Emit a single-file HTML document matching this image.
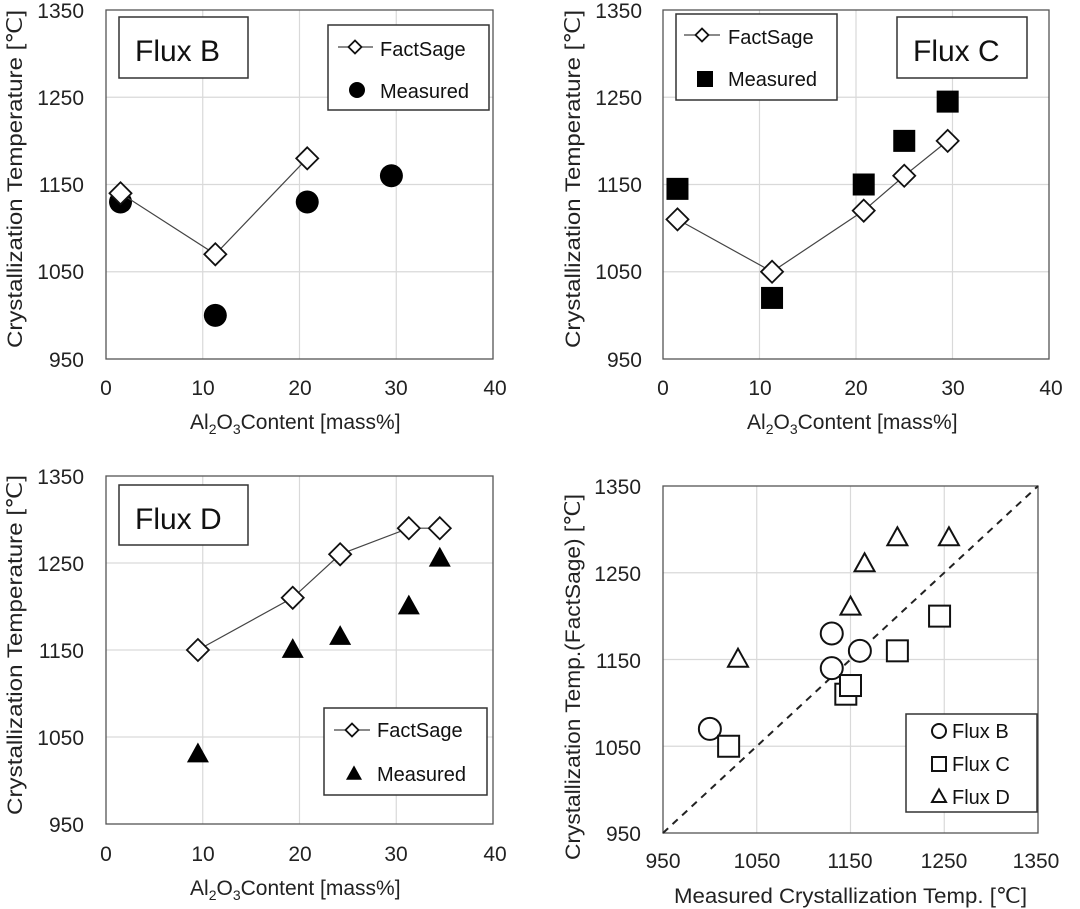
<!DOCTYPE html>
<html><head><meta charset="utf-8"><style>
html,body{margin:0;padding:0;background:#fff;}
svg{display:block;font-family:"Liberation Sans",sans-serif;fill:#222;}
</style></head><body>
<svg id="s" width="1080" height="909" viewBox="0 0 1080 909" xmlns="http://www.w3.org/2000/svg">
<g id="grid"></g>
<g font-size="21" fill="#222">
<g text-anchor="end"><text x="84" y="18">1350</text><text x="84" y="105">1250</text><text x="84" y="192">1150</text><text x="84" y="279">1050</text><text x="84" y="367">950</text></g>
<g text-anchor="middle"><text x="106" y="395">0</text><text x="203" y="395">10</text><text x="300" y="395">20</text><text x="396" y="395">30</text><text x="495" y="395">40</text></g>
<g text-anchor="end"><text x="642" y="18">1350</text><text x="642" y="105">1250</text><text x="642" y="192">1150</text><text x="642" y="279">1050</text><text x="642" y="367">950</text></g>
<g text-anchor="middle"><text x="663" y="395">0</text><text x="760" y="395">10</text><text x="856" y="395">20</text><text x="953" y="395">30</text><text x="1051" y="395">40</text></g>
<g text-anchor="end"><text x="84" y="484">1350</text><text x="84" y="571">1250</text><text x="84" y="658">1150</text><text x="84" y="745">1050</text><text x="84" y="832">950</text></g>
<g text-anchor="middle"><text x="106" y="861">0</text><text x="203" y="861">10</text><text x="300" y="861">20</text><text x="396" y="861">30</text><text x="495" y="861">40</text></g>
<g text-anchor="end"><text x="641" y="494">1350</text><text x="641" y="581">1250</text><text x="641" y="668">1150</text><text x="641" y="755">1050</text><text x="641" y="841">950</text></g>
<g text-anchor="middle"><text x="663" y="868">950</text><text x="757" y="868">1050</text><text x="850" y="868">1150</text><text x="944" y="868">1250</text><text x="1036" y="868">1350</text></g>
</g>
<g font-size="21" fill="#222">
<text x="190" y="429">Al<tspan font-size="14" dy="5">2</tspan><tspan dy="-5">O</tspan><tspan font-size="14" dy="5">3</tspan><tspan dy="-5">Content [mass%]</tspan></text>
<text x="747" y="429">Al<tspan font-size="14" dy="5">2</tspan><tspan dy="-5">O</tspan><tspan font-size="14" dy="5">3</tspan><tspan dy="-5">Content [mass%]</tspan></text>
<text x="190" y="895">Al<tspan font-size="14" dy="5">2</tspan><tspan dy="-5">O</tspan><tspan font-size="14" dy="5">3</tspan><tspan dy="-5">Content [mass%]</tspan></text>
<text x="674" y="903" textLength="353" lengthAdjust="spacingAndGlyphs">Measured Crystallization Temp. [℃]</text>
<text transform="translate(22,348) rotate(-90)" textLength="338" lengthAdjust="spacingAndGlyphs">Crystallization Temperature [℃]</text>
<text transform="translate(580,348) rotate(-90)" textLength="338" lengthAdjust="spacingAndGlyphs">Crystallization Temperature [℃]</text>
<text transform="translate(22,815) rotate(-90)" textLength="340" lengthAdjust="spacingAndGlyphs">Crystallization Temperature [℃]</text>
<text transform="translate(580,860) rotate(-90)" textLength="366" lengthAdjust="spacingAndGlyphs">Crystallization Temp.(FactSage)  [℃]</text>
</g>
<g id="data"></g>
<g fill="#fff" stroke="#333" stroke-width="1.5">
<rect x="119" y="17" width="129" height="61"/><rect x="897" y="17" width="130" height="61"/><rect x="119" y="485" width="129" height="60"/>
<rect x="328" y="25" width="161" height="85"/><rect x="676" y="14" width="161" height="86"/><rect x="324" y="708" width="163" height="87"/><rect x="906" y="714" width="131" height="98"/>
</g>
<g font-size="30" fill="#111"><text x="135" y="61">Flux B</text><text x="913" y="61">Flux C</text><text x="135" y="529">Flux D</text></g>
<g font-size="20" fill="#111">
<text x="380" y="56">FactSage</text><text x="380" y="98">Measured</text>
<text x="728" y="44">FactSage</text><text x="728" y="86">Measured</text>
<text x="377" y="737">FactSage</text><text x="377" y="781">Measured</text>
<text x="952" y="738">Flux B</text><text x="952" y="771">Flux C</text><text x="952" y="804">Flux D</text>
</g>
<g id="leg"></g>
</svg>
<script>
var NS="http://www.w3.org/2000/svg";
function el(p,t,a){var e=document.createElementNS(NS,t);for(var k in a)e.setAttribute(k,a[k]);document.getElementById(p).appendChild(e);return e;}
function panel(L,R,T,B,nx,ny){
 for(var i=1;i<nx;i++){var x=L+(R-L)*i/nx;el("grid","line",{x1:x,x2:x,y1:T,y2:B,stroke:"#d9d9d9","stroke-width":1.2});}
 for(var j=1;j<ny;j++){var y=T+(B-T)*j/ny;el("grid","line",{x1:L,x2:R,y1:y,y2:y,stroke:"#d9d9d9","stroke-width":1.2});}
 el("grid","rect",{x:L,y:T,width:R-L,height:B-T,fill:"none",stroke:"#555","stroke-width":1.3});
}
panel(106,493,10,359,4,4);panel(663,1049,10,359,4,4);panel(106,493,476,824,4,4);panel(663,1038,486,833,4,4);
function mk(L,R,T,B,x0,x1){return function(x,y){return [L+(x-x0)/(x1-x0)*(R-L),B-(y-950)/400*(B-T)];};}
function dia(g,p,r){el(g,"polygon",{points:(p[0])+","+(p[1]-r)+" "+(p[0]+r)+","+p[1]+" "+p[0]+","+(p[1]+r)+" "+(p[0]-r)+","+p[1],fill:"#fff",stroke:"#111","stroke-width":1.8});}
function line(g,pts){el(g,"polyline",{points:pts.map(function(p){return p.join(",")}).join(" "),fill:"none",stroke:"#444","stroke-width":1.2});}
function circ(g,p,r,f){el(g,"circle",{cx:p[0],cy:p[1],r:r,fill:f?"#000":"#fff",stroke:"#111","stroke-width":f?0:2});}
function sq(g,p,s,f){el(g,"rect",{x:p[0]-s/2,y:p[1]-s/2,width:s,height:s,fill:f?"#000":"#fff",stroke:"#111","stroke-width":f?0:2});}
function tri(g,p,s,f){var h=s*0.9;el(g,"polygon",{points:p[0]+","+(p[1]-h*0.6)+" "+(p[0]+s/2)+","+(p[1]+h*0.4)+" "+(p[0]-s/2)+","+(p[1]+h*0.4),fill:f?"#000":"#fff",stroke:"#111","stroke-width":f?0:2});}
var f=mk(106,493,10,359,0,40);
var fs=[[1.5,1140],[11.3,1070],[20.8,1180]].map(function(d){return f(d[0],d[1]);});
[[1.5,1130],[11.3,1000],[20.8,1130],[29.5,1160]].forEach(function(d){circ("data",f(d[0],d[1]),11.5,1);});
line("data",fs);fs.forEach(function(p){dia("data",p,11);});
f=mk(663,1049,10,359,0,40);
fs=[[1.5,1110],[11.3,1050],[20.8,1120],[25,1160],[29.5,1200]].map(function(d){return f(d[0],d[1]);});
[[1.5,1145],[11.3,1020],[20.8,1150],[25,1200],[29.5,1245]].forEach(function(d){sq("data",f(d[0],d[1]),22,1);});
line("data",fs);fs.forEach(function(p){dia("data",p,11);});
f=mk(106,493,476,824,0,40);
fs=[[9.5,1150],[19.3,1210],[24.2,1260],[31.3,1290],[34.5,1290]].map(function(d){return f(d[0],d[1]);});
[[9.5,1030],[19.3,1150],[24.2,1165],[31.3,1200],[34.5,1255]].forEach(function(d){tri("data",f(d[0],d[1]),22,1);});
line("data",fs);fs.forEach(function(p){dia("data",p,11);});
f=mk(663,1038,486,833,950,1350);
el("data","line",{x1:663,y1:833,x2:1038,y2:486,stroke:"#222","stroke-width":2,"stroke-dasharray":"7,6"});
[[1000,1070],[1130,1180],[1130,1140],[1160,1160]].forEach(function(d){circ("data",f(d[0],d[1]),11,0);});
[[1020,1050],[1145,1110],[1150,1120],[1200,1160],[1245,1200]].forEach(function(d){sq("data",f(d[0],d[1]),21,0);});
[[1030,1150],[1150,1210],[1165,1260],[1200,1290],[1255,1290]].forEach(function(d){tri("data",f(d[0],d[1]),20,0);});
line("leg",[[338,47],[373,47]]);dia("leg",[355,47],6.5);circ("leg",[357,90],8,1);
line("leg",[[684,35],[720,35]]);dia("leg",[702,35],6.5);sq("leg",[705,79],16,1);
line("leg",[[334,730],[370,730]]);dia("leg",[352,730],6.5);tri("leg",[354,774],16,1);
circ("leg",[939,731],7,0);sq("leg",[939,764],14,0);tri("leg",[939,797],14,0);
</script>
</body></html>
